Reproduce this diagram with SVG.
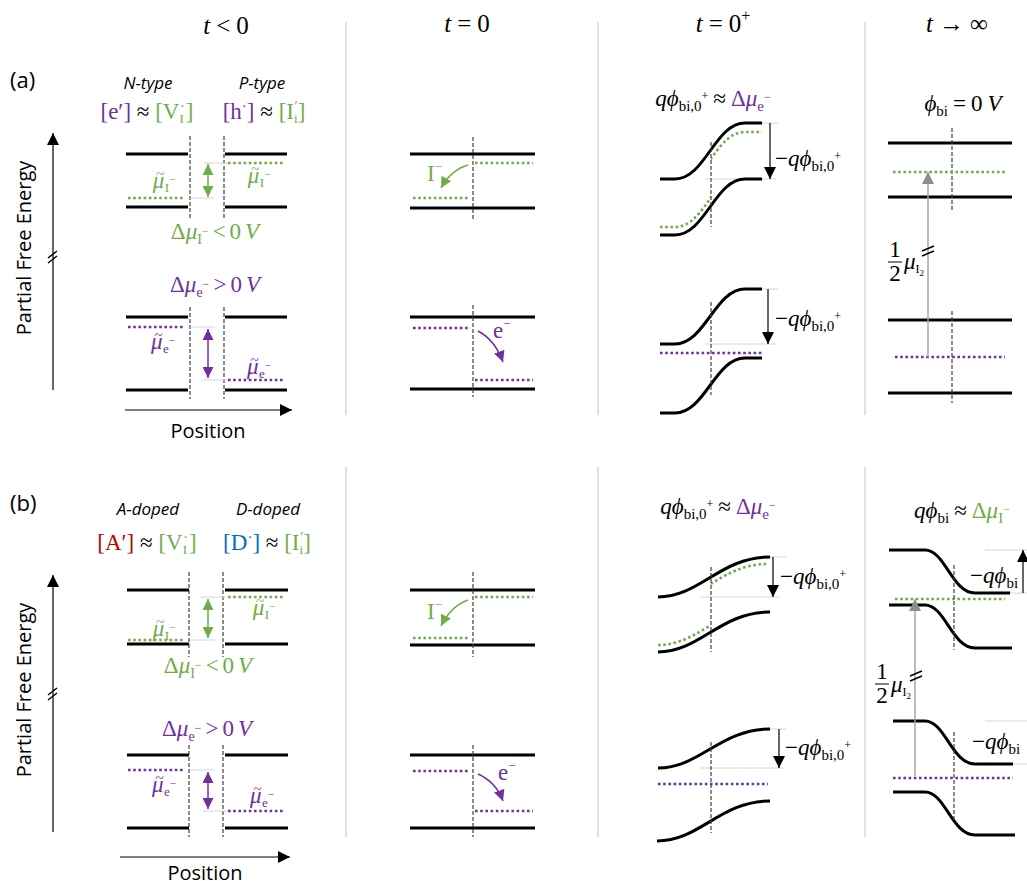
<svg xmlns="http://www.w3.org/2000/svg" width="1027" height="881" viewBox="0 0 1027 881">
<defs>
<style>
.m{font-family:"Liberation Serif","DejaVu Serif",serif;font-size:23px;fill:#000}
.sans{font-family:"Open Sans","Liberation Sans",sans-serif;fill:#000}
.i{font-style:italic}
.g{fill:#70AD47}
.p{fill:#7030A0}
.r{fill:#C00000}
.b{fill:#0070C0}
.band{fill:none;stroke:#000;stroke-width:3}
.dash{fill:none;stroke:#404040;stroke-width:1.2;stroke-dasharray:4 2}
.dg{fill:none;stroke:#70AD47;stroke-width:2.6;stroke-dasharray:2.6 2.6}
.dp{fill:none;stroke:#7030A0;stroke-width:2.6;stroke-dasharray:2.6 2.6}
.guide{fill:none;stroke:#D6D6D6;stroke-width:1}
.sep{stroke:#D9D9D9;stroke-width:1.5}
.ax{fill:none;stroke:#000;stroke-width:1.2}
.ga{fill:none;stroke:#70AD47;stroke-width:1.5}
.pa{fill:none;stroke:#7030A0;stroke-width:1.5}
.gray{fill:none;stroke:#A6A6A6;stroke-width:1.5}
.brk{fill:none;stroke:#000;stroke-width:1.5}
.hd{font-size:25px}
</style>
<marker id="mk" viewBox="0 0 12 12" refX="12" refY="6" markerWidth="12" markerHeight="12" markerUnits="userSpaceOnUse" orient="auto-start-reverse"><path d="M0,0 L12,6 L0,12 Z" fill="#000"/></marker>
<marker id="mg" viewBox="0 0 12 12" refX="12" refY="6" markerWidth="11" markerHeight="11" markerUnits="userSpaceOnUse" orient="auto-start-reverse"><path d="M0,0 L12,6 L0,12 Z" fill="#70AD47"/></marker>
<marker id="mp" viewBox="0 0 12 12" refX="12" refY="6" markerWidth="11" markerHeight="11" markerUnits="userSpaceOnUse" orient="auto-start-reverse"><path d="M0,0 L12,6 L0,12 Z" fill="#7030A0"/></marker>
<marker id="my" viewBox="0 0 12 12" refX="12" refY="6" markerWidth="12" markerHeight="12" markerUnits="userSpaceOnUse" orient="auto-start-reverse"><path d="M0,0 L12,6 L0,12 Z" fill="#8C8C8C"/></marker>
<clipPath id="cR"><rect x="711" y="0" width="100" height="881"/></clipPath>
<clipPath id="cL"><rect x="600" y="0" width="111" height="881"/></clipPath>
</defs>
<rect width="1027" height="881" fill="#fff"/>

<g id="headers">
<text class="m hd" x="226" y="34" text-anchor="middle"><tspan class="i">t</tspan><tspan dx="6">&lt;</tspan><tspan dx="6">0</tspan></text>
<text class="m hd" x="467" y="32" text-anchor="middle"><tspan class="i">t</tspan><tspan dx="6">=</tspan><tspan dx="6">0</tspan></text>
<text class="m hd" x="723" y="32" text-anchor="middle"><tspan class="i">t</tspan><tspan dx="6">=</tspan><tspan dx="6">0</tspan><tspan font-size="16" dy="-11">+</tspan></text>
<text class="m hd" x="957" y="32" text-anchor="middle"><tspan class="i">t</tspan><tspan dx="6">→</tspan><tspan dx="6">∞</tspan></text>
</g>

<g id="separators">
<line class="sep" x1="346" y1="22" x2="346" y2="415"/>
<line class="sep" x1="598" y1="22" x2="598" y2="415"/>
<line class="sep" x1="865" y1="22" x2="865" y2="415"/>
<line class="sep" x1="346" y1="467" x2="346" y2="837"/>
<line class="sep" x1="598" y1="467" x2="598" y2="837"/>
<line class="sep" x1="865" y1="467" x2="865" y2="837"/>
</g>

<!-- ================= PANEL A ================= -->
<g id="a-axes">
<text class="sans" x="10" y="88" font-size="22">(a)</text>
<text class="sans" font-size="20" transform="translate(31,248) rotate(-90)" text-anchor="middle">Partial Free Energy</text>
<path class="ax" d="M53,390 V133" marker-end="url(#mk)"/>
<path class="brk" d="M48,258 L57,251 M48,263 L57,256"/>
<path class="ax" d="M125,410 H292" marker-end="url(#mk)"/>
<text class="sans" x="208" y="438" font-size="20" text-anchor="middle">Position</text>
</g>

<g id="a-tlt0">
<text class="sans i" x="148" y="89" font-size="17" text-anchor="middle">N-type</text>
<text class="sans i" x="262" y="89" font-size="17" text-anchor="middle">P-type</text>
<text class="m" x="147" y="119" font-size="20" text-anchor="middle"><tspan class="p">[e′]</tspan> ≈ <tspan class="g">[V<tspan font-size="13" dy="4">I</tspan><tspan font-size="15" dx="-4" dy="-12">·</tspan><tspan dx="1" dy="8">]</tspan></tspan></text>
<text class="m" x="264" y="119" font-size="20" text-anchor="middle"><tspan class="p">[h<tspan font-size="15" dy="-8">·</tspan><tspan dy="8">]</tspan></tspan> ≈ <tspan class="g">[I<tspan font-size="13" dy="4">i</tspan><tspan font-size="14" dx="-3" dy="-12">′</tspan><tspan dy="8">]</tspan></tspan></text>
<path class="band" d="M126,154 H188 M126,207 H188 M225,154 H287 M225,207 H287"/>
<path class="dash" d="M190,136 V220 M224,136 V220"/>
<path class="guide" d="M204,163 H228 M190,198 H214"/>
<path class="dg" d="M128,198 H185 M228,163 H285"/>
<path class="ga" d="M208,164 V197" marker-start="url(#mg)" marker-end="url(#mg)"/>
<text class="m g" x="164" y="188" font-size="20" text-anchor="middle"><tspan class="i">μ</tspan><tspan font-size="15" dx="-8" dy="-9">~</tspan><tspan font-size="13" dx="0.5" dy="13">I</tspan><tspan font-size="11" dy="-9">−</tspan></text>
<text class="m g" x="259" y="183" font-size="20" text-anchor="middle"><tspan class="i">μ</tspan><tspan font-size="15" dx="-8" dy="-9">~</tspan><tspan font-size="13" dx="0.5" dy="13">I</tspan><tspan font-size="11" dy="-9">−</tspan></text>
<text class="m g" x="215" y="239" font-size="22" text-anchor="middle">Δ<tspan class="i">μ</tspan><tspan font-size="14" dy="5">I</tspan><tspan font-size="12" dy="-9">−</tspan><tspan dx="4" dy="4">&lt;</tspan><tspan dx="4">0</tspan><tspan class="i" dx="4">V</tspan></text>
<text class="m p" x="215" y="292" font-size="22" text-anchor="middle">Δ<tspan class="i">μ</tspan><tspan font-size="14" dy="5">e</tspan><tspan font-size="12" dy="-9">−</tspan><tspan dx="4" dy="4">&gt;</tspan><tspan dx="4">0</tspan><tspan class="i" dx="4">V</tspan></text>
<path class="band" d="M126,317 H188 M126,390 H188 M225,317 H287 M225,390 H287"/>
<path class="dash" d="M190,307 V399 M224,307 V399"/>
<path class="guide" d="M190,327 H215 M202,380 H228"/>
<path class="dp" d="M128,327 H185 M228,380 H285"/>
<path class="pa" d="M208,329 V378" marker-start="url(#mp)" marker-end="url(#mp)"/>
<text class="m p" x="163" y="349" font-size="20" text-anchor="middle"><tspan class="i">μ</tspan><tspan font-size="15" dx="-8" dy="-9">~</tspan><tspan font-size="13" dx="0.5" dy="13">e</tspan><tspan font-size="11" dy="-9">−</tspan></text>
<text class="m p" x="259" y="374" font-size="20" text-anchor="middle"><tspan class="i">μ</tspan><tspan font-size="15" dx="-8" dy="-9">~</tspan><tspan font-size="13" dx="0.5" dy="13">e</tspan><tspan font-size="11" dy="-9">−</tspan></text>
</g>

<g id="a-t0">
<path class="band" d="M410,154 H535 M410,208 H535 M410,317 H535 M410,389 H535"/>
<path class="dash" d="M473,137 V220 M473,305 V397"/>
<path class="dg" d="M475,163 H533 M413,198 H470"/>
<path class="ga" d="M468,165 Q451,170 441,188" marker-end="url(#mg)"/>
<text class="m g" x="427" y="181" font-size="22">I<tspan font-size="13" dy="-10">−</tspan></text>
<path class="dp" d="M413,328 H470 M475,380 H533"/>
<path class="pa" d="M478,331 Q495,340 503,362" marker-end="url(#mp)"/>
<text class="m p" x="493" y="338" font-size="22">e<tspan font-size="13" dy="-10">−</tspan></text>
</g>

<g id="a-t0plus">
<text class="m" x="713" y="106" text-anchor="middle"><tspan class="i">qϕ</tspan><tspan font-size="15" dy="5">bi,0</tspan><tspan font-size="12" dy="-11">+</tspan><tspan dx="5" dy="6">≈</tspan><tspan class="p" dx="5">Δ<tspan class="i">μ</tspan><tspan font-size="15" dy="5">e</tspan><tspan font-size="12" dy="-10">−</tspan></tspan></text>
<path class="guide" d="M762,123 H778 M705,179 H776"/>
<path class="band" d="M660,179 L675,179 C705,179 715,123 745,123 L762,123"/>
<path class="band" d="M660,235 L675,235 C705,235 715,179 745,179 L762,179"/>
<path class="dg" clip-path="url(#cR)" transform="translate(0,9)" d="M660,179 L675,179 C705,179 715,123 745,123 L762,123"/>
<path class="dg" clip-path="url(#cL)" d="M660,227 L675,227 C705,227 715,171 745,171 L762,171"/>
<path class="dash" d="M711,142 V227"/>
<path class="ax" d="M770,123 V179" marker-end="url(#mk)"/>
<text class="m" x="775" y="166">−<tspan class="i">qϕ</tspan><tspan font-size="15" dy="5">bi,0</tspan><tspan font-size="12" dy="-11">+</tspan></text>
<path class="guide" d="M762,289 H778 M705,344 H776"/>
<path class="band" d="M660,344 L675,344 C705,344 715,289 745,289 L762,289"/>
<path class="band" d="M660,413 L675,413 C705,413 715,358 745,358 L762,358"/>
<path class="dp" d="M660,353 H762"/>
<path class="dash" d="M711,302 V395"/>
<path class="ax" d="M768,289 V344" marker-end="url(#mk)"/>
<text class="m" x="775" y="326">−<tspan class="i">qϕ</tspan><tspan font-size="15" dy="5">bi,0</tspan><tspan font-size="12" dy="-11">+</tspan></text>
</g>

<g id="a-tinf">
<text class="m" x="963" y="111" text-anchor="middle"><tspan class="i">ϕ</tspan><tspan font-size="15" dy="5">bi</tspan><tspan dx="5" dy="-5">=</tspan><tspan dx="5">0</tspan><tspan class="i" dx="5">V</tspan></text>
<path class="band" d="M888,143 H1012 M888,197 H1012 M888,320 H1012 M888,393 H1012"/>
<path class="dash" d="M952,128 V212 M952,311 V403"/>
<path class="dg" d="M893,172 H1005"/>
<path class="dp" d="M895,357 H1005"/>
<path class="gray" d="M928,357 V172" marker-end="url(#my)"/>
<path class="brk" d="M922,251 L934,246 M922,256 L934,251"/>
<text class="m" x="895" y="257" font-size="21" text-anchor="middle">1</text>
<line x1="888" y1="262" x2="902" y2="262" stroke="#000" stroke-width="1"/>
<text class="m" x="895" y="281" font-size="21" text-anchor="middle">2</text>
<text class="m" x="904" y="269" font-size="19"><tspan class="i">μ</tspan><tspan font-size="12" dy="4">I</tspan><tspan font-size="9" dy="3">2</tspan></text>
</g>

<!-- ================= PANEL B ================= -->
<g id="b-axes">
<text class="sans" x="10" y="511" font-size="22">(b)</text>
<text class="sans" font-size="20" transform="translate(31,690) rotate(-90)" text-anchor="middle">Partial Free Energy</text>
<path class="ax" d="M53,832 V575" marker-end="url(#mk)"/>
<path class="brk" d="M48,695 L57,688 M48,700 L57,693"/>
<path class="ax" d="M120,857 H290" marker-end="url(#mk)"/>
<text class="sans" x="205" y="880" font-size="20" text-anchor="middle">Position</text>
</g>

<g id="b-tlt0">
<text class="sans i" x="148" y="515" font-size="17" text-anchor="middle">A-doped</text>
<text class="sans i" x="268" y="515" font-size="17" text-anchor="middle">D-doped</text>
<text class="m" x="147" y="550" font-size="20" text-anchor="middle"><tspan class="r">[A′]</tspan> ≈ <tspan class="g">[V<tspan font-size="13" dy="4">I</tspan><tspan font-size="15" dx="-4" dy="-12">·</tspan><tspan dx="1" dy="8">]</tspan></tspan></text>
<text class="m" x="267" y="550" font-size="20" text-anchor="middle"><tspan class="b">[D<tspan font-size="15" dy="-8">·</tspan><tspan dy="8">]</tspan></tspan> ≈ <tspan class="g">[I<tspan font-size="13" dy="4">i</tspan><tspan font-size="14" dx="-3" dy="-12">′</tspan><tspan dy="8">]</tspan></tspan></text>
<path class="band" d="M127,590 H189 M127,644 H189 M225,590 H288 M225,644 H288"/>
<path class="dash" d="M189,572 V657 M223,572 V657"/>
<path class="guide" d="M200,597 H226 M190,640 H215"/>
<path class="dg" d="M128,640 H185 M228,597 H285"/>
<path class="ga" d="M208,599 V638" marker-start="url(#mg)" marker-end="url(#mg)"/>
<text class="m g" x="164" y="636" font-size="20" text-anchor="middle"><tspan class="i">μ</tspan><tspan font-size="15" dx="-8" dy="-9">~</tspan><tspan font-size="13" dx="0.5" dy="13">I</tspan><tspan font-size="11" dy="-9">−</tspan></text>
<text class="m g" x="264" y="615" font-size="20" text-anchor="middle"><tspan class="i">μ</tspan><tspan font-size="15" dx="-8" dy="-9">~</tspan><tspan font-size="13" dx="0.5" dy="13">I</tspan><tspan font-size="11" dy="-9">−</tspan></text>
<text class="m g" x="208" y="673" font-size="22" text-anchor="middle">Δ<tspan class="i">μ</tspan><tspan font-size="14" dy="5">I</tspan><tspan font-size="12" dy="-9">−</tspan><tspan dx="4" dy="4">&lt;</tspan><tspan dx="4">0</tspan><tspan class="i" dx="4">V</tspan></text>
<text class="m p" x="207" y="736" font-size="22" text-anchor="middle">Δ<tspan class="i">μ</tspan><tspan font-size="14" dy="5">e</tspan><tspan font-size="12" dy="-9">−</tspan><tspan dx="4" dy="4">&gt;</tspan><tspan dx="4">0</tspan><tspan class="i" dx="4">V</tspan></text>
<path class="band" d="M127,755 H189 M127,828 H189 M225,755 H288 M225,828 H288"/>
<path class="dash" d="M189,745 V837 M223,745 V837"/>
<path class="guide" d="M190,770 H214 M202,811 H228"/>
<path class="dp" d="M128,770 H185 M228,811 H285"/>
<path class="pa" d="M208,772 V809" marker-start="url(#mp)" marker-end="url(#mp)"/>
<text class="m p" x="164" y="792" font-size="20" text-anchor="middle"><tspan class="i">μ</tspan><tspan font-size="15" dx="-8" dy="-9">~</tspan><tspan font-size="13" dx="0.5" dy="13">e</tspan><tspan font-size="11" dy="-9">−</tspan></text>
<text class="m p" x="262" y="803" font-size="20" text-anchor="middle"><tspan class="i">μ</tspan><tspan font-size="15" dx="-8" dy="-9">~</tspan><tspan font-size="13" dx="0.5" dy="13">e</tspan><tspan font-size="11" dy="-9">−</tspan></text>
</g>

<g id="b-t0">
<path class="band" d="M410,590 H535 M410,645 H535 M410,755 H535 M410,828 H535"/>
<path class="dash" d="M473,572 V657 M473,745 V837"/>
<path class="dg" d="M475,597 H533 M413,638 H470"/>
<path class="ga" d="M468,600 Q451,606 441,626" marker-end="url(#mg)"/>
<text class="m g" x="427" y="619" font-size="22">I<tspan font-size="13" dy="-10">−</tspan></text>
<path class="dp" d="M413,771 H470 M475,811 H533"/>
<path class="pa" d="M478,774 Q496,782 503,801" marker-end="url(#mp)"/>
<text class="m p" x="498" y="780" font-size="22">e<tspan font-size="13" dy="-10">−</tspan></text>
</g>

<g id="b-t0plus">
<text class="m" x="718" y="514" text-anchor="middle"><tspan class="i">qϕ</tspan><tspan font-size="15" dy="5">bi,0</tspan><tspan font-size="12" dy="-11">+</tspan><tspan dx="5" dy="6">≈</tspan><tspan class="p" dx="5">Δ<tspan class="i">μ</tspan><tspan font-size="15" dy="5">e</tspan><tspan font-size="12" dy="-10">−</tspan></tspan></text>
<path class="guide" d="M770,557 H786 M700,597 H780"/>
<path class="band" d="M658,597 C700,597 720,557 770,557"/>
<path class="band" d="M658,652 C700,652 720,612 770,612"/>
<path class="dg" clip-path="url(#cR)" d="M658,604 C700,604 720,564 768,564"/>
<path class="dg" clip-path="url(#cL)" d="M658,645 C700,645 720,605 770,605"/>
<path class="dash" d="M711,567 V652"/>
<path class="ax" d="M773,557 V597" marker-end="url(#mk)"/>
<text class="m" x="780" y="584">−<tspan class="i">qϕ</tspan><tspan font-size="15" dy="5">bi,0</tspan><tspan font-size="12" dy="-11">+</tspan></text>
<path class="guide" d="M770,729 H786 M700,768 H784"/>
<path class="band" d="M658,768 C700,768 720,729 770,729"/>
<path class="band" d="M657,841 C700,841 720,801 770,801"/>
<path class="dp" d="M658,784 H768"/>
<path class="dash" d="M711,742 V833"/>
<path class="ax" d="M779,729 V768" marker-end="url(#mk)"/>
<text class="m" x="785" y="755">−<tspan class="i">qϕ</tspan><tspan font-size="15" dy="5">bi,0</tspan><tspan font-size="12" dy="-11">+</tspan></text>
</g>

<g id="b-tinf">
<text class="m" x="962" y="518" text-anchor="middle"><tspan class="i">qϕ</tspan><tspan font-size="15" dy="5">bi</tspan><tspan dx="5" dy="-5">≈</tspan><tspan class="g" dx="5">Δ<tspan class="i">μ</tspan><tspan font-size="15" dy="5">I</tspan><tspan font-size="12" dy="-10">−</tspan></tspan></text>
<path class="guide" d="M985,550 H1027 M1010,593 H1027 M985,721 H1027 M1013,764 H1027"/>
<path class="band" d="M889,550 L925,550 C945,550 952,593 975,593 L1010,593"/>
<path class="band" d="M889,605 L925,605 C945,605 952,648 975,648 L1012,648"/>
<path class="dg" d="M895,599 H1005"/>
<path class="dash" d="M954,565 V650"/>
<path class="ax" d="M1023,593 V550" marker-end="url(#mk)"/>
<text class="m" x="970" y="583">−<tspan class="i">qϕ</tspan><tspan font-size="15" dy="5">bi</tspan></text>
<path class="band" d="M893,721 L925,721 C945,721 952,764 975,764 L1013,764"/>
<path class="band" d="M893,792 L925,792 C945,792 952,835 975,835 L1015,835"/>
<path class="dp" d="M893,778 H1013"/>
<path class="dash" d="M954,732 V823"/>
<text class="m" x="972" y="749">−<tspan class="i">qϕ</tspan><tspan font-size="15" dy="5">bi</tspan></text>
<path class="gray" d="M915,776 V599" marker-end="url(#my)"/>
<path class="brk" d="M910,676 L922,671 M910,681 L922,676"/>
<text class="m" x="882" y="679" font-size="21" text-anchor="middle">1</text>
<line x1="875" y1="684" x2="889" y2="684" stroke="#000" stroke-width="1"/>
<text class="m" x="882" y="703" font-size="21" text-anchor="middle">2</text>
<text class="m" x="891" y="692" font-size="19"><tspan class="i">μ</tspan><tspan font-size="12" dy="4">I</tspan><tspan font-size="9" dy="3">2</tspan></text>
</g>
</svg>
